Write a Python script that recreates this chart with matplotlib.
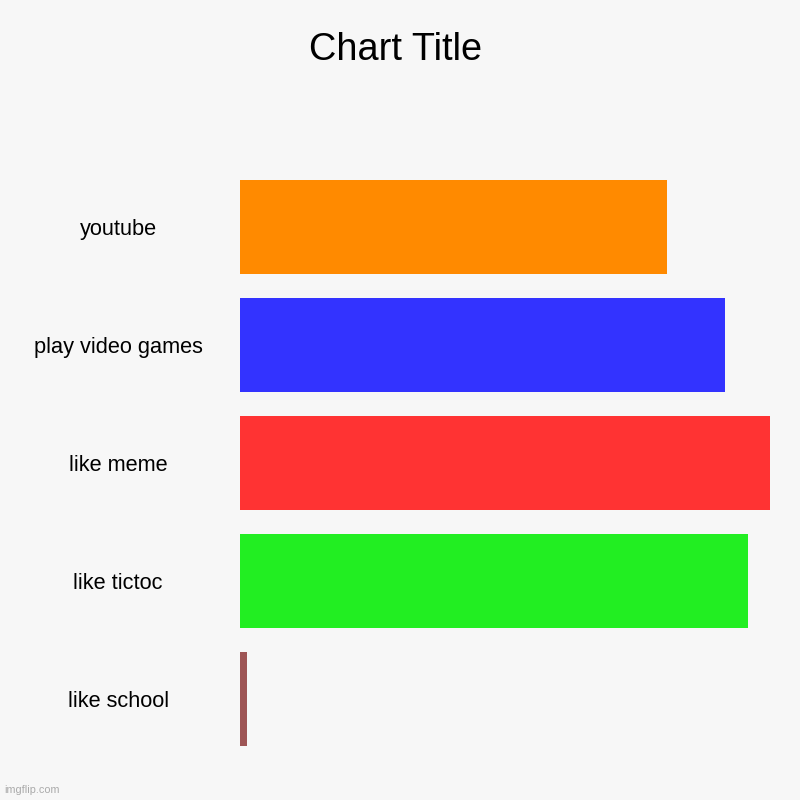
import matplotlib
matplotlib.use("Agg")
import matplotlib.pyplot as plt

# data
categories = ["youtube", "play video games", "like meme", "like tictoc", "like school"]
values = [80.5, 91.6, 100.0, 95.8, 1.4]
colors = ["#FF8A00", "#3333FF", "#FF3333", "#22EE22", "#9E5555"]

plt.rcParams["font.family"] = ["Liberation Sans", "DejaVu Sans"]

bg = "#F7F7F7"
fig = plt.figure(figsize=(8, 8), dpi=100, facecolor=bg)
ax = fig.add_axes([0.3, 0.0525, 0.6625, 0.7375], facecolor=bg)

ypos = list(range(len(categories)))
ax.barh(ypos, values, height=0.797, color=colors, left=0)
ax.set_ylim(len(categories) - 0.5, -0.5)
ax.set_xlim(0, max(values))

ax.set_yticks(ypos)
ax.set_yticklabels([])
for y, lab in zip(ypos, categories):
    ax.text(-0.23, y + 0.025, lab, transform=ax.get_yaxis_transform(),
            ha="center", va="center", fontsize=15.7, color="black")

ax.set_xticks([])
ax.tick_params(left=False)
for s in ax.spines.values():
    s.set_visible(False)

fig.text(0.494, 0.937, "Chart Title", ha="center", va="center", fontsize=27.3)
fig.text(0.005, 0.012, "imgflip.com", ha="left", va="center", fontsize=7.8, color="#AAAAAA")

fig.savefig("out.png", dpi=100, facecolor=bg)
